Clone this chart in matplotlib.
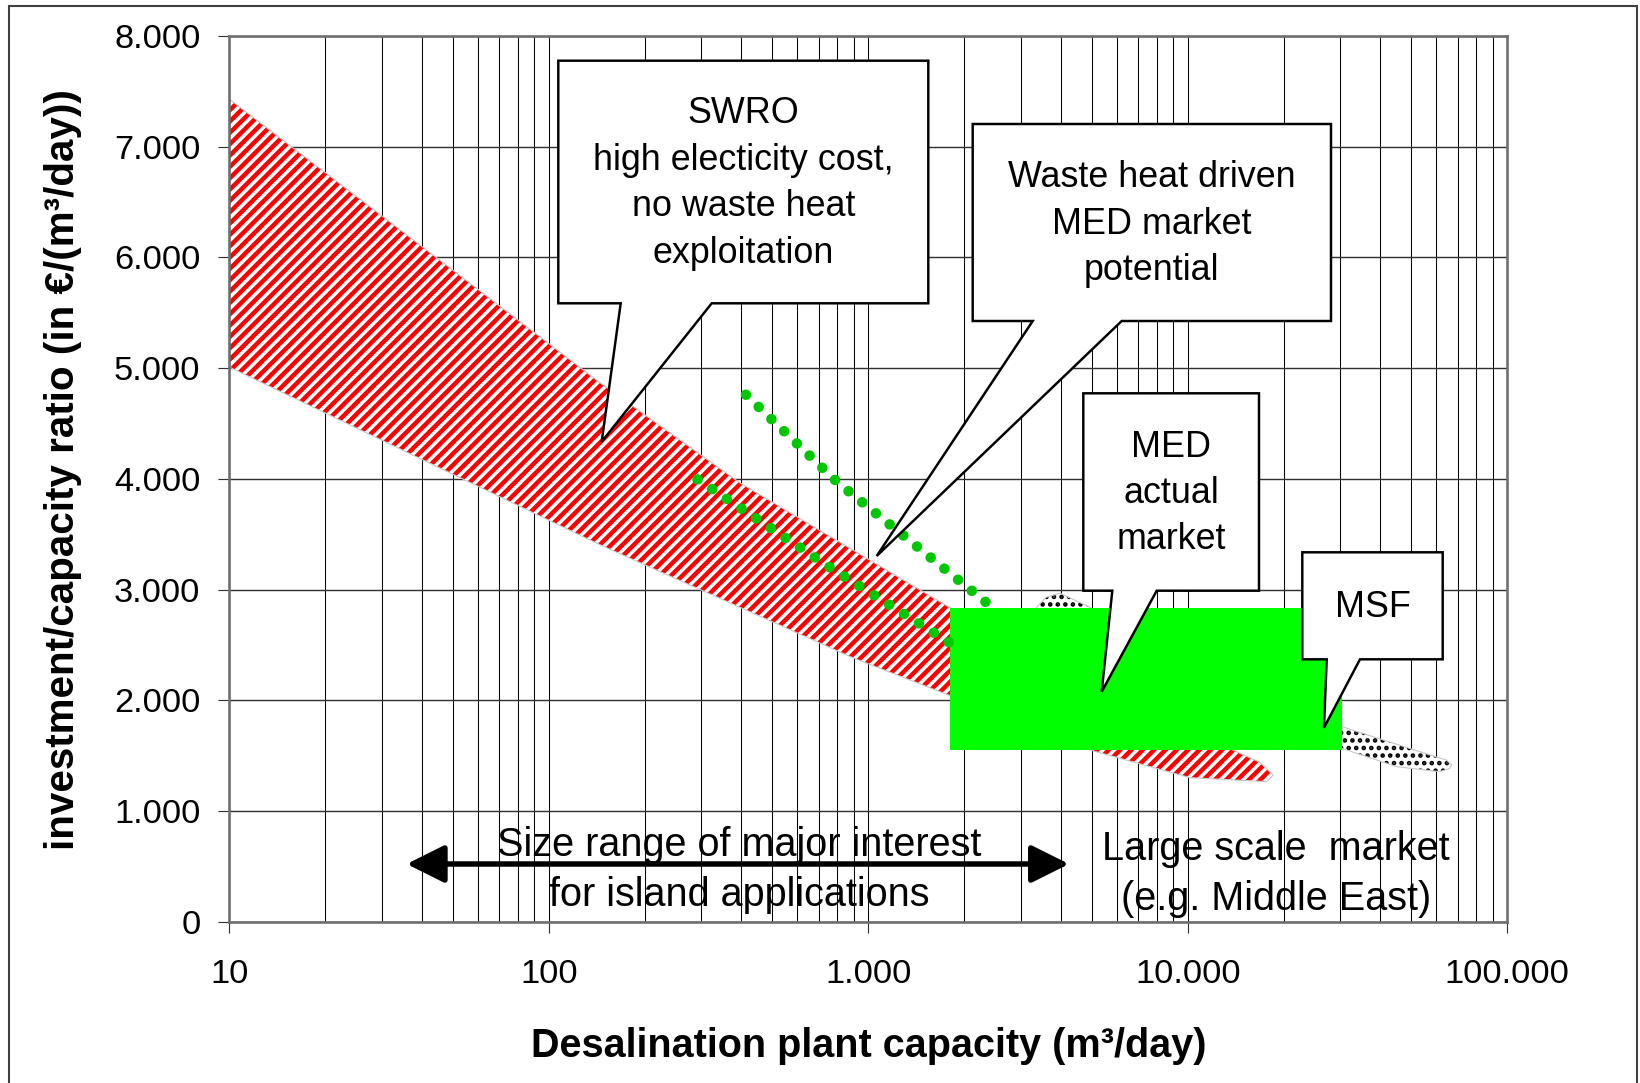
import matplotlib
matplotlib.use("Agg")
import matplotlib.pyplot as plt
from matplotlib.patches import Polygon, FancyArrowPatch, Rectangle
from matplotlib.ticker import LogLocator, NullFormatter, FixedLocator

plt.rcParams['font.family'] = ['Liberation Sans', 'DejaVu Sans']

# ---------------- data ----------------
capacity_ticks = [10, 100, 1000, 10000, 100000]
capacity_tick_labels = ["10", "100", "1.000", "10.000", "100.000"]
ratio_ticks = [0, 1000, 2000, 3000, 4000, 5000, 6000, 7000, 8000]
ratio_tick_labels = ["0", "1.000", "2.000", "3.000", "4.000", "5.000", "6.000", "7.000", "8.000"]

# SWRO band (red hatched)
swro_upper_x = [10, 145, 397, 1807, 14200, 16800, 18500]
swro_upper_y = [7430, 4866, 3963, 2834, 1536, 1440, 1325]
swro_lower_x = [10, 145, 898, 4940, 10160, 17660]
swro_lower_y = [5010, 3403, 2382, 1551, 1301, 1265]

# MSF band (black dotted)
msf_upper_x = [3365, 3600, 3980, 4940, 30320, 57300, 64500, 67000]
msf_upper_y = [2840, 2930, 2967, 2840, 1762, 1506, 1460, 1416]
msf_lower_x = [3365, 5500, 30320, 45100, 61500, 66000]
msf_lower_y = [2780, 2560, 1566, 1400, 1355, 1385]

# MED actual market (green box)
med_x = [1806, 30380]
med_y = [1551, 2832]

# green dotted trend lines
wh_line_x = [414, 800, 2430]
wh_line_y = [4760, 3970, 2845]
med_line_x = [292, 774, 1868]
med_line_y = [3995, 3183, 2490]

# ---------------- figure ----------------
DPI = 136
W, H = 1640, 1083
fig = plt.figure(figsize=(W / DPI, H / DPI), dpi=DPI)

def fx(px):
    return px / W

def fy(py):
    return 1 - py / H

ax_l, ax_r, ax_t, ax_b = 229.3, 1507.3, 36.0, 921.7
ax = fig.add_axes([fx(ax_l), fy(ax_b), fx(ax_r) - fx(ax_l), fy(ax_t) - fy(ax_b)])
ax.set_xscale('log')
ax.set_xlim(capacity_ticks[0], capacity_ticks[-1])
ax.set_ylim(ratio_ticks[0], ratio_ticks[-1])

ax.xaxis.set_major_locator(FixedLocator(capacity_ticks))
ax.xaxis.set_minor_locator(LogLocator(base=10, subs=[2, 3, 4, 5, 6, 7, 8, 9]))
ax.xaxis.set_minor_formatter(NullFormatter())
ax.set_xticklabels(capacity_tick_labels)
ax.set_yticks(ratio_ticks)
ax.set_yticklabels(ratio_tick_labels)

ax.set_axisbelow(True)
ax.grid(axis='x', which='both', color='black', lw=0.55)
ax.grid(axis='y', which='major', color='#303030', lw=0.75)
ax.tick_params(axis='both', which='major', direction='out', length=5.8, width=0.6,
               color='#303030', labelsize=18.2)
ax.tick_params(axis='y', which='major', pad=9.5)
ax.tick_params(axis='x', which='major', pad=14)
ax.tick_params(axis='x', which='minor', length=0)
for s in ax.spines.values():
    s.set_color('#6f6f6f')
    s.set_linewidth(1.4)

ax.set_xlabel('Desalination plant capacity (m\u00b3/day)', fontsize=21, fontweight='bold')
ax.xaxis.set_label_coords(0.5, (ax_b - 1046) / (ax_b - ax_t))
ax.xaxis.label.set_va('center')
ax.set_ylabel('investment/capacity ratio (in \u20ac/(m\u00b3/day))', fontsize=21.4, fontweight='bold')
ax.yaxis.set_label_coords((63 - ax_l) / (ax_r - ax_l), (ax_b - 470) / (ax_b - ax_t))
ax.yaxis.label.set_va('center')


def hatched_band(ux, uy, lx, ly, hatch, color, hlw, z):
    xs = list(ux) + list(lx)[::-1]
    ys = list(uy) + list(ly)[::-1]
    pts = list(zip(xs, ys))
    with plt.rc_context({'hatch.linewidth': hlw, 'hatch.color': color}):
        p = Polygon(pts, closed=True, facecolor='white', edgecolor=color,
                    lw=0, hatch=hatch, zorder=z)
        if hasattr(p, 'set_hatch_linewidth'):
            p.set_hatch_linewidth(hlw)
        ax.add_patch(p)
    ax.add_patch(Polygon(pts, closed=True, fill=False, edgecolor='#c8c8c8',
                         lw=0.6, zorder=z + 0.1))

hatched_band(swro_upper_x, swro_upper_y, swro_lower_x, swro_lower_y,
             '////', 'red', 2.35, 2)
hatched_band(msf_upper_x, msf_upper_y, msf_lower_x, msf_lower_y,
             '...', 'black', 1.6, 2.2)

ax.fill_between(med_x, med_y[0], med_y[1], color='#00ff00', lw=0, zorder=3)

dot_lw = 10.5 / DPI * 72
for lx, ly in [(wh_line_x, wh_line_y), (med_line_x, med_line_y)]:
    ax.plot(lx, ly, color='#00c800', lw=dot_lw, linestyle=(0, (0.01, 17.5 / 10.5)),
            dash_capstyle='round', solid_capstyle='round', zorder=4)

# ---------------- callouts (pixel positions) ----------------
callouts = [
    ((558.3, 60.7, 928.3, 303.3), (620.7, 711.7), (601.7, 441.7),
     "SWRO\nhigh electicity cost,\nno waste heat\nexploitation"),
    ((972.7, 124.0, 1331.0, 321.0), (1032.7, 1121.7), (876.7, 556.0),
     "Waste heat driven\nMED market\npotential"),
    ((1083.3, 393.3, 1259.0, 590.7), (1112.3, 1156.7), (1101.7, 691.7),
     "MED\nactual\nmarket"),
    ((1302.3, 552.3, 1442.7, 659.3), (1326.7, 1360.0), (1324.0, 727.7),
     "MSF"),
]
for (x0, y0, x1, y1), (w0, w1), (tx, ty), txt in callouts:
    pts = [(x0, y0), (x1, y0), (x1, y1), (w1, y1), (tx, ty), (w0, y1), (x0, y1)]
    pts = [(fx(a), fy(b)) for a, b in pts]
    ax.add_patch(Polygon(pts, closed=True, facecolor='white', edgecolor='black',
                         lw=1.3, joinstyle='miter', transform=fig.transFigure,
                         clip_on=False, zorder=10))
    ax.text(fx((x0 + x1) / 2), fy((y0 + y1) / 2 + 1.5), txt, transform=fig.transFigure,
            ha='center', va='center', multialignment='center', fontsize=19,
            linespacing=1.42, zorder=11)

# double-headed range arrow
arrow = FancyArrowPatch((fx(406.7), fy(864)), (fx(1069), fy(864)),
                        transform=fig.transFigure,
                        arrowstyle='<|-|>,head_length=17,head_width=8.5',
                        lw=2.9, color='black', shrinkA=0, shrinkB=0,
                        zorder=8, clip_on=False)
ax.add_patch(arrow)

ax.text(fx(739.5), fy(869.5), "Size range of major interest\nfor island applications",
        transform=fig.transFigure, ha='center', va='center', multialignment='center',
        fontsize=21, linespacing=1.4, zorder=9)
ax.text(fx(1276), fy(873.5), "Large scale  market\n(e.g. Middle East)",
        transform=fig.transFigure, ha='center', va='center', multialignment='center',
        fontsize=21, linespacing=1.4, zorder=9)

# outer frame
fig.add_artist(Rectangle((fx(8.7), -0.05), fx(1637) - fx(8.7), fy(5.7) + 0.05,
                         transform=fig.transFigure, fill=False,
                         edgecolor='#404040', lw=1.1))

fig.savefig('out.png', dpi=DPI)
